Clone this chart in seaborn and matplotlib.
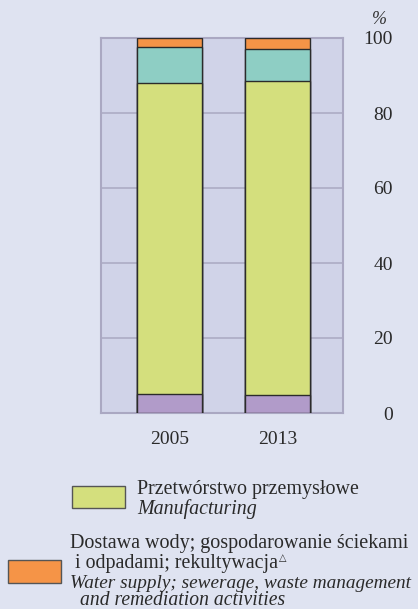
import pandas as pd
import seaborn as sns
import matplotlib.pyplot as plt
from matplotlib.patches import Rectangle

# --- данные (udział w %) ---
years = ["2005", "2013"]
mining = [5.0, 4.7]          # fioletowy
manufacturing = [83.1, 83.9]  # żółto-zielony
energy = [9.6, 8.6]          # turkusowy
water = [2.3, 2.8]           # pomarańczowy

colors = {"mining": "#b19bc9", "manufacturing": "#d4df7d",
          "energy": "#8ecec4", "water": "#f59447"}

df = pd.DataFrame({"year": years, "mining": mining, "manufacturing": manufacturing,
                   "energy": energy, "water": water})
order = ["mining", "manufacturing", "energy", "water"]
cum = df[order].cumsum(axis=1)
cum["year"] = df["year"]

sns.set_style("white")
plt.rcParams["font.family"] = ["Liberation Serif", "DejaVu Serif"]

W, H = 418, 609
fig = plt.figure(figsize=(W / 100, H / 100), dpi=100, facecolor="#dfe3f1")
ax = fig.add_axes([101 / W, 1 - 413 / H, 242 / W, 375 / H])
ax.set_facecolor("#d0d3e8")

# stacked bars: draw cumulative totals from the top layer down
for key in reversed(order):
    sns.barplot(data=cum, x="year", y=key, color=colors[key], width=0.6,
                edgecolor="#2b2b2b", linewidth=1.0, saturation=1, ax=ax, zorder=3)

ax.set_xlim(-0.634, 1.606)
ax.set_ylim(0, 100)
ax.set_yticks([0, 20, 40, 60, 80, 100])
ax.yaxis.tick_right()
ax.tick_params(axis="y", length=0, pad=36, labelsize=14, labelcolor="#2a2a2a")
for lab in ax.get_yticklabels():
    lab.set_horizontalalignment("right")
ax.tick_params(axis="x", length=0, pad=13, labelsize=14, labelcolor="#2a2a2a")
ax.set_xlabel("")
ax.set_ylabel("")
ax.grid(axis="y", color="#aaa8c2", linewidth=1.1, zorder=0)
ax.set_axisbelow(True)
for sp in ax.spines.values():
    sp.set_color("#aaa8c2")
    sp.set_linewidth(1.5)
    sp.set_visible(True)

fig.text(379 / W, 1 - 24 / H, "%", fontsize=13, style="italic",
         ha="center", va="baseline", color="#333333")

# --- legenda ---
def px(x, y):
    return x / W, 1 - y / H

fig.add_artist(Rectangle(px(72, 508), 53 / W, 22 / H, transform=fig.transFigure,
                         facecolor=colors["manufacturing"], edgecolor="#555555", lw=1.0))
fig.add_artist(Rectangle(px(8, 583), 53 / W, 23 / H, transform=fig.transFigure,
                         facecolor=colors["water"], edgecolor="#555555", lw=1.0))

tc = "#2a2a2a"
r = fig.canvas.get_renderer()

# (x, y baseline, text, italic, target width in px)
legend_lines = [
    (137, 494, "Przetwórstwo przemysłowe", False, 223),
    (137, 514, "Manufacturing", True, 120),
    (70, 548, "Dostawa wody; gospodarowanie ściekami", False, 342),
    (75, 568, "i odpadami; rekultywacja", False, 203),
    (70, 588, "Water supply; sewerage, waste management", True, 342),
    (80, 605, "and remediation activities", True, 205),
]
texts = []
for x, y, s, it, w in legend_lines:
    t = fig.text(*px(x, y), s, fontsize=14, color=tc, va="baseline",
                 style="italic" if it else "normal")
    cur = t.get_window_extent(renderer=r).width
    t.set_fontsize(14 * w / cur)
    texts.append(t)

# mały trójkąt jako indeks górny
bb = texts[3].get_window_extent(renderer=r)
fig.text((bb.x1 + 1) / W, 1 - 561 / H, "\u25b3", fontsize=7, color=tc,
         va="baseline", family=["DejaVu Sans"])

fig.savefig("out.png", dpi=100, facecolor=fig.get_facecolor())
